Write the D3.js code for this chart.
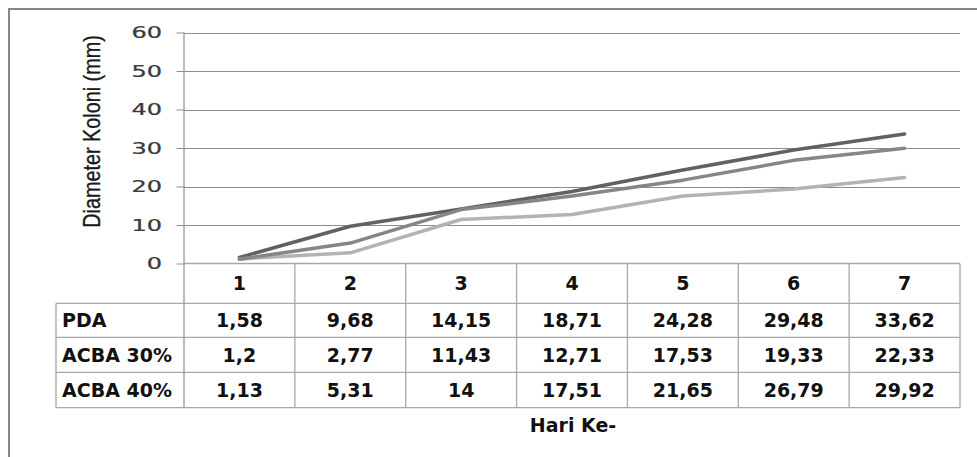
<!DOCTYPE html>
<html>
<head>
<meta charset="utf-8">
<script src="https://cdn.jsdelivr.net/npm/d3@7"></script>
<style>
  html, body { margin: 0; padding: 0; background: #fff; }
  svg { display: block; }
</style>
</head>
<body>
<svg id="chart" width="977" height="457"></svg>
<script>
// Colony diameter per day, three media
const days = ["1", "2", "3", "4", "5", "6", "7"];
const seriesNames = ["PDA", "ACBA 30%", "ACBA 40%"];
const pda = [1.58, 9.68, 14.15, 18.71, 24.28, 29.48, 33.62];
const acba30 = [1.2, 2.77, 11.43, 12.71, 17.53, 19.33, 22.33];
const acba40 = [1.13, 5.31, 14, 17.51, 21.65, 26.79, 29.92];
const yTicks = [0, 10, 20, 30, 40, 50, 60];
const yTitle = "Diameter Koloni (mm)";
const xTitle = "Hari Ke-";

const series = [
  { name: seriesNames[0], values: pda, color: "#616161" },
  { name: seriesNames[1], values: acba30, color: "#b3b3b3" },
  { name: seriesNames[2], values: acba40, color: "#868686" }
];

const fmt = v => String(v).replace(".", ",");

const svg = d3.select("#chart");

const plot = { left: 184, right: 960, top: 32.5, bottom: 263.5 };
const tableLeft = 56;
const rowLines = [263.5, 303.3, 337.3, 372.3, 407.7];

const x = d3.scaleBand().domain(days).range([plot.left, plot.right]);
const y = d3.scaleLinear().domain([0, 60]).range([plot.bottom, plot.top]);

// outer frame (left and top edges)
svg.append("path")
  .attr("d", `M9,457 V9 H977`)
  .attr("fill", "none").attr("stroke", "#878787").attr("stroke-width", 2);

// gridlines
svg.append("g").selectAll("line").data(yTicks.filter(t => t > 0)).join("line")
  .attr("x1", plot.left).attr("x2", plot.right)
  .attr("y1", d => Math.round(y(d)) + 0.5).attr("y2", d => Math.round(y(d)) + 0.5)
  .attr("stroke", "#8c8c8c").attr("stroke-width", 1);

// y axis with tick marks on the left
const yAxis = d3.axisLeft(y).tickValues(yTicks).tickSize(8).tickFormat("");
const yg = svg.append("g").attr("transform", `translate(${plot.left + 0.5},0)`).call(yAxis);
yg.select(".domain").remove();
yg.selectAll(".tick line").attr("stroke", "#8c8c8c");

// tick labels (wide face)
svg.append("g").selectAll("text").data(yTicks).join("text")
  .attr("transform", d => `translate(162,${y(d) + 5.5}) scale(1.55,1)`)
  .attr("text-anchor", "end")
  .attr("font-family", "DejaVu Sans")
  .attr("font-size", 15.5)
  .attr("fill", "#3a3a3a")
  .attr("stroke", "#3a3a3a")
  .attr("stroke-width", 0.25)
  .text(d => d);

// y title
svg.append("text")
  .attr("transform", `translate(92,131.5) rotate(-90) scale(1,1.2)`)
  .attr("text-anchor", "middle")
  .attr("dominant-baseline", "central")
  .attr("font-family", "Liberation Sans")
  .attr("font-size", 19.8)
  .attr("fill", "#1a1a1a")
  .attr("stroke", "#1a1a1a")
  .attr("stroke-width", 0.3)
  .text(yTitle);

// data table
const tg = svg.append("g").attr("stroke", "#a8a8a8").attr("stroke-width", 1.3).attr("fill", "none");
// horizontal lines: header top spans only value columns, others include label column
rowLines.forEach((ry, i) => {
  tg.append("line")
    .attr("x1", i === 0 ? plot.left : tableLeft).attr("x2", plot.right)
    .attr("y1", ry).attr("y2", ry);
});
// vertical axis line (plot + table)
tg.append("line").attr("x1", plot.left).attr("x2", plot.left)
  .attr("y1", plot.top).attr("y2", rowLines[4]).attr("stroke", "#9a9a9a");
// label column left edge
tg.append("line").attr("x1", tableLeft).attr("x2", tableLeft)
  .attr("y1", rowLines[1]).attr("y2", rowLines[4]);
// column separators
days.forEach(d => {
  const xr = x(d) + x.bandwidth();
  tg.append("line").attr("x1", xr).attr("x2", xr)
    .attr("y1", rowLines[0]).attr("y2", rowLines[4]);
});

const textAttrs = sel => sel
  .attr("font-family", "DejaVu Sans")
  .attr("font-weight", "bold")
  .attr("font-size", 19)
  .attr("fill", "#111");

// header row: day numbers
svg.append("g").selectAll("text").data(days).join("text")
  .call(textAttrs)
  .attr("x", d => x(d) + x.bandwidth() / 2)
  .attr("y", (rowLines[0] + rowLines[1]) / 2 + 7)
  .attr("text-anchor", "middle")
  .text(d => d);

// series rows
series.forEach((s, i) => {
  const cy = (rowLines[i + 1] + rowLines[i + 2]) / 2 + 7;
  svg.append("text").call(textAttrs)
    .attr("x", 62).attr("y", cy)
    .text(s.name);
  svg.append("g").selectAll("text").data(s.values).join("text")
    .call(textAttrs)
    .attr("x", (v, j) => x(days[j]) + x.bandwidth() / 2)
    .attr("y", cy)
    .attr("text-anchor", "middle")
    .text(v => fmt(v));
});

// x title
svg.append("text").call(textAttrs)
  .attr("x", 573).attr("y", 432)
  .attr("text-anchor", "middle")
  .text(xTitle);

// lines
const line = d3.line()
  .x((v, j) => x(days[j]) + x.bandwidth() / 2)
  .y(v => y(v));

svg.append("g").selectAll("path").data(series).join("path")
  .attr("d", s => line(s.values))
  .attr("fill", "none")
  .attr("stroke", s => s.color)
  .attr("stroke-width", 3.5)
  .attr("stroke-linejoin", "round")
  .attr("stroke-linecap", "round");
</script>
</body>
</html>
